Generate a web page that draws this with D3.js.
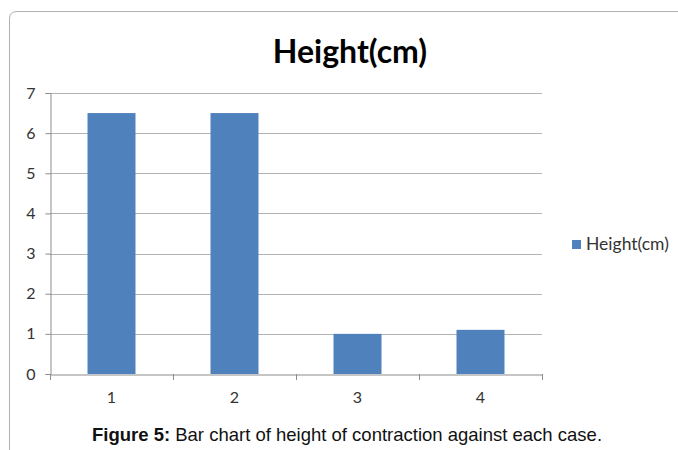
<!DOCTYPE html>
<html><head><meta charset="utf-8">
<script src="https://cdn.jsdelivr.net/npm/d3@7"></script>
<style>body{margin:0;background:#fff}svg{display:block}</style>
</head><body>
<script>
const categories = ["1","2","3","4"];
const values = [6.5, 6.5, 1, 1.1];
const yTicks = [0,1,2,3,4,5,6,7];
const seriesName = "Height(cm)";
const title = "Height(cm)";

const W = 678, H = 450;
const svg = d3.select("body").append("svg").attr("width", W).attr("height", H);

svg.append("path")
  .attr("d", `M9.5,${H} L9.5,19 Q9.5,11.5 17,11.5 L${W},11.5`)
  .attr("fill","none").attr("stroke","#b0b0b0").attr("stroke-width",1);

const m = {l:50, r:542, t:93, b:374};
const x = d3.scaleBand().domain(categories).range([m.l, m.r]).paddingInner(0.61).paddingOuter(0.305);
const xb = d3.scaleBand().domain(categories).range([m.l, m.r]);
const y = d3.scaleLinear().domain([0,7]).range([m.b, m.t]);

svg.append("g").selectAll("line").data(yTicks.filter(d=>d>0)).join("line")
  .attr("x1", m.l).attr("x2", m.r)
  .attr("y1", d=>Math.round(y(d))+0.5).attr("y2", d=>Math.round(y(d))+0.5)
  .attr("stroke","#b3b3b3");

svg.append("g").selectAll("rect").data(values).join("rect")
  .attr("x",(d,i)=>x(categories[i])).attr("width",x.bandwidth())
  .attr("y",d=>y(d)).attr("height",d=>y(0)-y(d))
  .attr("fill","#4f81bd");

const font = "Lato, 'Open Sans', sans-serif";
const yAx = svg.append("g").attr("transform",`translate(${m.l+0.5},0)`)
  .call(d3.axisLeft(y).tickValues(yTicks).tickSize(5).tickPadding(10).tickFormat(d3.format("d")));
const xAx = svg.append("g").attr("transform",`translate(0,${Math.round(m.b)+0.5})`)
  .call(d3.axisBottom(xb).tickSize(0).tickPadding(17));
[yAx,xAx].forEach(g=>{
  g.selectAll("path.domain").attr("stroke","#8c8c8c");
  g.selectAll("line").attr("stroke","#8c8c8c");
  g.selectAll("text").attr("font-family",font).attr("font-size",16).attr("fill","#333");
});
const bounds = categories.map(c=>xb(c)).concat([m.r]);
svg.append("g").selectAll("line").data(bounds).join("line")
  .attr("x1",d=>Math.round(d)+0.5).attr("x2",d=>Math.round(d)+0.5)
  .attr("y1",m.b).attr("y2",m.b+6).attr("stroke","#8c8c8c");

svg.append("text").attr("x",350).attr("y",63).attr("text-anchor","middle")
  .attr("font-family",font).attr("font-weight","bold").attr("font-size",32).attr("fill","#000").text(title);

svg.append("rect").attr("x",572).attr("y",240).attr("width",9).attr("height",9).attr("fill","#4f81bd");
svg.append("text").attr("x",586).attr("y",250).attr("font-family",font).attr("font-size",17.5).attr("fill","#333").text(seriesName);

const cap = svg.append("text").attr("x",347).attr("y",441).attr("text-anchor","middle")
  .attr("font-family","'Liberation Sans', Arial, sans-serif").attr("font-size",18.5).attr("fill","#111");
cap.append("tspan").attr("font-weight","bold").text("Figure 5:");
cap.append("tspan").text(" Bar chart of height of contraction against each case.");
</script>
</body></html>
